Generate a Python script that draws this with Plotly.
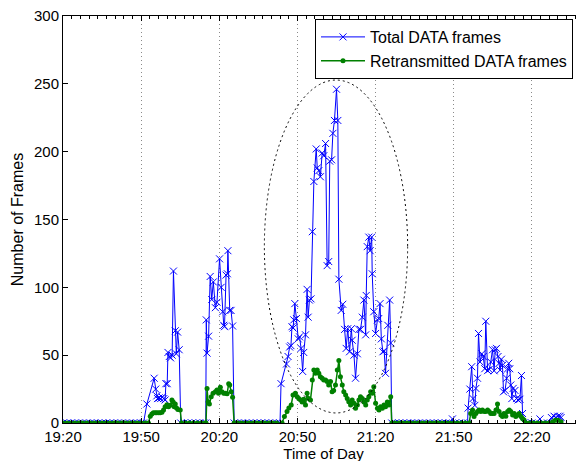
import plotly.graph_objects as go
import pandas as pd

# ---------------- data (minutes after 19:20, frame counts) ----------------
blue_minutes = [
    0, 1.5, 3, 4.5, 6, 7.5, 9, 10.5, 12, 13.5, 15, 16.5, 18, 19.5, 21, 22.5, 24, 25.5, 27, 28.5, 30, 30.9,
    32.2, 35.0, 35.6, 36.0, 36.3, 36.9, 37.5, 38.1, 38.7, 39.2, 39.5, 40.0, 40.3, 40.8, 41.3, 41.9, 42.4, 43.1, 43.5, 44.0, 44.6, 45.2,
    46.5, 48, 49.5, 51, 52.5, 54, 54.8,
    55.0, 55.3, 55.9, 56.5, 57.1, 57.7, 58.5, 59.1, 60.1, 60.7, 61.3, 61.7, 62.0, 62.6, 63.1, 63.3, 64.0, 64.5, 65.1, 65.7,
    67, 68.5, 70, 71.5, 73, 74.5, 76, 77.5, 79, 80.5, 82, 83.3,
    83.7, 85.8, 86.4, 87.0, 87.5, 87.9, 88.3, 88.6, 89.0, 89.6, 90.3, 90.8, 91.4, 92.0, 92.4, 93.1, 93.7, 94.1, 94.6, 95.2,
    95.7, 96.3, 97.2, 97.6, 98.2, 98.8, 99.5, 100.1, 100.8, 101.4, 102.0, 102.4, 103.1, 103.6, 104.2, 105.0, 105.5, 105.9,
    106.8, 107.4, 108.1, 108.7, 109.3, 110.0, 110.7, 111.0, 111.7, 112.3, 113.0, 113.6, 114.2, 114.9, 115.5, 116.2, 116.4,
    116.8, 117.4, 117.9, 118.5, 118.7, 119.3, 120.0, 120.7, 121.2, 121.7, 122.2, 122.8, 123.3, 123.8, 124.7, 125.4, 125.8, 126.2,
    127.5, 129, 130.5, 132, 133.5, 135, 136.5, 138, 139.5, 141, 142.5, 144, 145.5, 147, 148.5, 149.5, 150.5, 152, 153.5, 155.3,
    155.5, 156.2, 156.9, 157.4, 158.1, 158.5, 159.1, 159.5, 160.1, 160.8, 161.3, 161.9, 162.3, 163.0, 163.6, 164.2, 164.9,
    165.5, 165.9, 166.4, 167.0, 167.4, 167.8, 168.3, 168.7, 169.1, 169.7, 170.3, 170.7, 171.1, 171.5, 171.9, 172.3, 172.8,
    173.5, 174.1, 174.7, 175.4, 176.0, 176.4, 177.0,
    178.5, 180, 181.5, 183.1, 184.5, 186, 187.5, 188.5, 189.2, 190.0, 190.8, 191.2,
]
blue_frames = [
    0, 0, 0, 0, 0, 0, 0, 0, 0, 0, 0, 0, 0, 0, 0, 0, 0, 0, 0, 0, 0, 0,
    14, 33, 25, 20, 18, 18.5, 18, 19, 18, 17, 29, 29, 52, 49, 48, 50, 112, 68, 51, 67, 54, 0,
    0, 0, 0, 0, 0, 0, 0,
    76, 51.5, 64, 108, 91, 104, 85, 89, 121, 100, 82, 72, 71, 109, 110, 127, 83, 83, 71.5, 0,
    0, 0, 0, 0, 0, 0, 0, 0, 0, 0, 0, 0,
    29, 43.5, 49, 56, 57, 71, 70, 76, 88, 77, 62, 63.5, 55, 38, 52, 65, 98.5, 78, 90.6, 91.5,
    141, 178, 202, 188, 186, 181.5, 199, 197, 206, 116, 119, 193, 194, 213.5, 223, 246, 223, 106,
    83, 87.5, 69, 55, 69.5, 52.5, 69.5, 61, 50, 33, 51, 69, 69, 78, 90.6, 65, 94,
    130, 137, 127, 137, 110, 82, 66, 76, 77, 88, 62, 52.5, 53, 36.6, 72, 90.6, 59, 0,
    0, 0, 0, 0, 0, 0, 0, 0, 0, 0, 0, 0, 0, 0, 0, 3, 0, 0, 0, 0,
    11, 25, 41.5, 18, 13, 25.5, 33, 66, 45, 51, 49, 40, 75, 38.6, 39.5, 45, 54,
    38.5, 54, 55, 49, 44, 39, 47, 42.5, 23, 24, 33, 40, 44, 40, 28, 18, 25.5,
    24, 18, 17, 17.5, 35, 7, 0,
    0, 0, 0, 3, 0, 0, 4, 5, 4, 5, 5, 4,
]

green_minutes = [
    0, 1.5, 3, 4.5, 6, 7.5, 9, 10.5, 12, 13.5, 15, 16.5, 18, 19.5, 21, 22.5, 24, 25.5, 27, 28.5, 30, 31.5, 32.8,
    33.5, 34.1, 34.7, 35.4, 36.0, 36.7, 37.3, 38.0, 38.6, 39.2, 39.9, 40.5, 41.2, 41.8, 42.3, 42.7, 43.1, 43.6, 44.1, 45.0, 45.5,
    47, 48.5, 50, 51.5, 53, 54.5, 54.9,
    55.3, 55.7, 56.2, 56.9, 57.6, 58.5, 59.1, 59.7, 60.4, 61.0, 61.7, 62.3, 63.0, 63.6, 64.0, 64.6, 65.1, 65.7,
    67, 68.5, 70, 71.5, 73, 74.5, 76, 77.5, 79, 80.5, 82, 84.1,
    85.0, 86.0, 86.7, 87.6, 88.3, 89.2, 89.9, 90.5, 91.2, 91.8, 92.4, 93.1, 93.7, 94.3, 95.0,
    95.7, 96.3, 96.9, 97.6, 98.2, 98.8, 99.5, 100.1, 100.8, 101.4, 102.0, 102.7, 103.3, 103.9, 104.6, 105.3, 105.9,
    106.5, 107.2, 107.8, 108.5, 109.1, 109.7, 110.4, 111.0, 111.7, 112.3, 113.0, 113.6, 114.2, 114.9, 115.5, 116.2,
    116.8, 117.4, 118.1, 118.7, 119.3, 120.0, 120.7, 121.3, 121.9, 122.6, 123.2, 123.8, 124.5, 125.1, 125.8, 126.2,
    127.5, 129, 130.5, 132, 133.5, 135, 136.5, 138, 139.5, 141, 142.5, 144, 145.5, 147, 148.5, 150, 151.5, 153, 154.5, 155.9,
    156.5, 157.2, 157.8, 158.5, 159.1, 159.7, 160.4, 161.0, 161.7, 162.3, 163.0, 163.6, 164.2, 164.9, 165.5, 166.2, 166.8,
    167.4, 168.1, 168.7, 169.3, 170.0, 170.7, 171.3, 171.9, 172.6, 173.2, 173.8, 174.5, 175.1, 175.8, 176.4, 177.0, 177.7,
    179, 180.5, 182, 183.5, 185, 186.5, 188, 189, 190, 191.2,
]
green_frames = [
    0, 0, 0, 0, 0, 0, 0, 0, 0, 0, 0, 0, 0, 0, 0, 0, 0, 0, 0, 0, 0, 0, 0,
    5, 6.6, 7.5, 7.5, 7.5, 7.5, 7.5, 8, 9.6, 12, 13.5, 12, 13, 17, 15.5, 12, 14, 11, 10, 9.5, 0,
    0, 0, 0, 0, 0, 0, 0,
    25.5, 15.7, 14, 19.4, 22, 23, 24.3, 22, 26.3, 23, 22, 22, 21.5, 29, 28, 23, 19, 0,
    0, 0, 0, 0, 0, 0, 0, 0, 0, 0, 0, 0,
    4.7, 8.4, 11, 13.3, 20.6, 22, 19.4, 18, 17, 15.5, 17.5, 13.3, 22, 18, 17,
    31.7, 39, 36.6, 39, 36.6, 34, 33, 31.7, 31.7, 30.5, 28, 30.5, 23, 24, 28, 39, 46,
    34, 28, 23, 20.6, 18, 15.7, 13.3, 17, 14.5, 10.8, 13.3, 17, 19.4, 18, 15.5, 13.3,
    17, 19.4, 23, 22, 26.8, 14.5, 10.8, 9.5, 12, 10.8, 13.3, 12, 15.5, 13.3, 19.4, 0,
    0, 0, 0, 0, 0, 0, 0, 0, 0, 0, 0, 0, 0, 0, 0, 0, 0, 0, 0, 0,
    7, 9.6, 4.7, 7, 8.4, 9.6, 8.4, 9.6, 8.4, 8.4, 9.6, 8.4, 7, 7, 7, 9.6, 14,
    8.4, 5.9, 4.7, 7, 5, 8.4, 9.6, 8.4, 5.9, 7, 4.7, 5.9, 7, 4.7, 3.4, 2.2, 0,
    0, 0, 0, 0, 0, 0, 1, 2, 2, 1,
]

tick_labels = ["19:20", "19:50", "20:20", "20:50", "21:20", "21:50", "22:20"]
y_ticks = [0, 50, 100, 150, 200, 250, 300]
day = "2000-01-01 "
start = pd.Timestamp(day + "19:20")
x_end = pd.Timestamp(day + "22:40")

assert len(blue_minutes) == len(blue_frames), (len(blue_minutes), len(blue_frames))
assert len(green_minutes) == len(green_frames), (len(green_minutes), len(green_frames))


def to_time(mins):
    return [start + pd.Timedelta(minutes=m) for m in mins]


FONT = "Liberation Sans, Arial, Helvetica, sans-serif"

fig = go.Figure()
fig.add_trace(go.Scatter(
    x=to_time(blue_minutes), y=blue_frames, mode="lines+markers",
    name="Total DATA frames",
    line=dict(color="#0000ff", width=1),
    marker=dict(symbol="x-thin", size=7, color="#0000ff", line=dict(width=1, color="#0000ff")),
))
fig.add_trace(go.Scatter(
    x=to_time(green_minutes), y=green_frames, mode="lines+markers",
    name="Retransmitted DATA frames",
    line=dict(color="#008000", width=1.5),
    marker=dict(symbol="circle", size=5, color="#008000"),
))

# dotted ellipse highlighting the busy period
fig.add_shape(type="circle", xref="x", yref="y",
              x0=start + pd.Timedelta(minutes=77.3), x1=start + pd.Timedelta(minutes=132.3),
              y0=7.4, y1=252.8,
              line=dict(color="#000000", width=1, dash="2px,3px"))

# page body adds an 8px offset: margins compensate so the plot box sits at x 63-584, y 16-423
fig.update_layout(
    width=584, height=461,
    margin=dict(l=55, r=8, t=8, b=46),
    paper_bgcolor="white", plot_bgcolor="white",
    font=dict(family=FONT, size=15, color="black"),
    showlegend=True,
    legend=dict(x=(315 - 63) / 521, y=(423 - 19) / 407, xanchor="left", yanchor="top",
                bordercolor="black", borderwidth=1, bgcolor="white", itemwidth=44,
                font=dict(family=FONT, size=16, color="black"), tracegroupgap=0),
)
fig.update_xaxes(
    type="date", range=[start, x_end],
    tickvals=[pd.Timestamp(day + t) for t in tick_labels], ticktext=tick_labels,
    ticks="inside", ticklen=5, tickcolor="black", tickfont=dict(size=15),
    showline=True, linecolor="black", linewidth=1, mirror="allticks",
    showgrid=True, gridcolor="#8a8a8a", griddash="1px,3px", gridwidth=1,
    minor=dict(ticks="inside", ticklen=3, tickcolor="black", dtick=200000, tick0=start, showgrid=False),
    title=dict(text="Time of Day", font=dict(size=15), standoff=3),
    ticklabeloverflow="allow",
    automargin=False,
)
fig.update_yaxes(
    range=[0, 300], tickmode="array", tickvals=y_ticks, ticktext=[str(v) for v in y_ticks],
    ticks="inside", ticklen=5, tickcolor="black", tickfont=dict(size=15),
    showline=True, linecolor="black", linewidth=1, mirror="allticks",
    showgrid=False, zeroline=False,
    title=dict(text="Number of Frames", font=dict(size=16), standoff=6),
    ticklabeloverflow="allow",
    automargin=False,
)

fig.write_html("out.html")
